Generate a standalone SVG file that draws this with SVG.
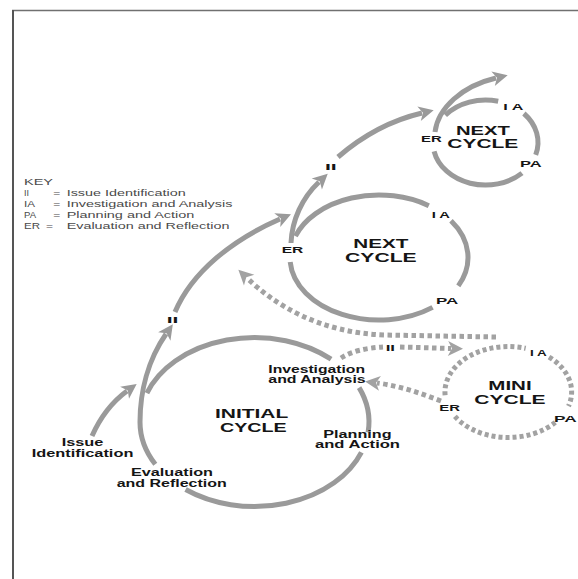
<svg xmlns="http://www.w3.org/2000/svg" width="578" height="579" viewBox="0 0 578 579">
  <style>
    .ring { fill: none; stroke: #9a9a9a; stroke-width: 5; }
    .dots { fill: none; stroke: #a2a2a2; stroke-width: 5; stroke-dasharray: 4.5 3.5; }
    .ring-dots { fill: none; stroke: #a2a2a2; stroke-width: 5; stroke-dasharray: 4 3; }
    .arrow { fill: none; stroke: #9a9a9a; stroke-width: 5; marker-end: url(#head); }
    .arrow-dots { fill: none; stroke: #a2a2a2; stroke-width: 5; stroke-dasharray: 4.5 3.5; marker-end: url(#head-light); }
    .lbl { font-family: "Liberation Sans", Arial, sans-serif; font-weight: bold; fill: #151515; }
    .big { font-size: 13px; }
    .mid { font-size: 12.6px; }
    .txt { font-size: 11.5px; }
    .tag { font-size: 9.3px; }
    .key { font-family: "Liberation Sans", Arial, sans-serif; font-size: 9.5px; fill: #4a4a4a; }
  </style>
  <defs>
    <marker id="head" viewBox="-2 -9 20 18" markerWidth="20" markerHeight="18" refX="3" refY="0" orient="auto" markerUnits="userSpaceOnUse">
      <path d="M15 0 L0 -7.5 L4 0 L0 7.5 Z" fill="#9a9a9a"/>
    </marker>
    <marker id="head-light" viewBox="-2 -9 20 18" markerWidth="20" markerHeight="18" refX="3" refY="0" orient="auto" markerUnits="userSpaceOnUse">
      <path d="M15 0 L0 -7.5 L4 0 L0 7.5 Z" fill="#a2a2a2"/>
    </marker>
  </defs>

  <rect width="578" height="579" fill="#fff"/>

  <!-- frame: only the top and left edges fall inside the page -->
  <g id="frame">
    <line x1="12" y1="10.5" x2="578" y2="10.5" stroke="#707070" stroke-width="1.6"/>
    <line x1="13" y1="10" x2="13" y2="579" stroke="#555" stroke-width="2"/>
  </g>

  <!-- key -->
  <g id="key">
    <text class="key" x="24" y="185" textLength="29" lengthAdjust="spacingAndGlyphs">KEY</text>
    <text class="key" x="24" y="196" textLength="5" lengthAdjust="spacingAndGlyphs">II</text>
    <text class="key" x="53.3" y="196" textLength="7" lengthAdjust="spacingAndGlyphs">=</text>
    <text class="key" x="66.7" y="196" textLength="119" lengthAdjust="spacingAndGlyphs">Issue Identification</text>
    <text class="key" x="24" y="207" textLength="11" lengthAdjust="spacingAndGlyphs">IA</text>
    <text class="key" x="53.3" y="207" textLength="7" lengthAdjust="spacingAndGlyphs">=</text>
    <text class="key" x="66.7" y="207" textLength="165.7" lengthAdjust="spacingAndGlyphs">Investigation and Analysis</text>
    <text class="key" x="24" y="218" textLength="12" lengthAdjust="spacingAndGlyphs">PA</text>
    <text class="key" x="53.3" y="218" textLength="7" lengthAdjust="spacingAndGlyphs">=</text>
    <text class="key" x="66.7" y="218" textLength="127.7" lengthAdjust="spacingAndGlyphs">Planning and Action</text>
    <text class="key" x="24" y="229" textLength="16" lengthAdjust="spacingAndGlyphs">ER</text>
    <text class="key" x="46" y="229" textLength="7" lengthAdjust="spacingAndGlyphs">=</text>
    <text class="key" x="66.7" y="229" textLength="162.7" lengthAdjust="spacingAndGlyphs">Evaluation and Reflection</text>
  </g>

  <!-- connectors: rising arrows and dotted side paths -->
  <g id="connectors">
    <path class="arrow" d="M92 436 C100 418 112 402 127 391"/>
    <path class="arrow" d="M140 422 C140 392 148 360 166 334"/>
    <path class="arrow" d="M175 312 C192 272 232 240 280 219"/>
    <path class="arrow" d="M291 243 C292 220 302 198 319 182"/>
    <path class="arrow" d="M338 157 C360 138 388 121 422 113"/>
    <path class="arrow" d="M435 132 C438 108 462 86 496 78"/>
    <path class="arrow-dots" d="M496 337 L385 335 C320 333 275 305 247 278"/>
    <path class="dots" d="M341 358 C352 351 366 348 383 347"/>
    <path class="arrow-dots" d="M400 347 L451 348.5"/>
    <path class="arrow-dots" d="M441 401 C420 393 400 386 377 383"/>
    <text class="lbl tag" x="166.7" y="322.7" textLength="11.6" lengthAdjust="spacingAndGlyphs">II</text>
    <text class="lbl tag" x="325" y="170" textLength="11.7" lengthAdjust="spacingAndGlyphs">II</text>
    <text class="lbl tag" x="385.7" y="350.7" textLength="9.3" lengthAdjust="spacingAndGlyphs">II</text>
  </g>

  <!-- start label -->
  <g id="issue-identification">
    <text class="lbl txt" x="61.7" y="446" textLength="41.7" lengthAdjust="spacingAndGlyphs">Issue</text>
    <text class="lbl txt" x="31.7" y="456.7" textLength="101.7" lengthAdjust="spacingAndGlyphs">Identification</text>
  </g>

  <!-- initial cycle: ellipse centre (254.5,422), radii 114.5 x 84.5 -->
  <g id="initial-cycle">
    <path class="ring" d="M146.9 393.1 A114.5 84.5 0 0 1 331.1 359.2"/>
    <path class="ring" d="M359.1 387.6 A114.5 84.5 0 0 1 368.1 432.3"/>
    <path class="ring" d="M361.4 452.3 A114.5 84.5 0 0 1 185.6 489.5"/>
    <path class="ring" d="M155.3 464.3 A114.5 84.5 0 0 1 140 422"/>
    <text class="lbl big" x="215" y="418.3" textLength="73.3" lengthAdjust="spacingAndGlyphs">INITIAL</text>
    <text class="lbl big" x="220" y="432.3" textLength="66.7" lengthAdjust="spacingAndGlyphs">CYCLE</text>
    <text class="lbl txt" x="268.3" y="372.7" textLength="96.7" lengthAdjust="spacingAndGlyphs">Investigation</text>
    <text class="lbl txt" x="268.3" y="383.3" textLength="97.4" lengthAdjust="spacingAndGlyphs">and Analysis</text>
    <text class="lbl txt" x="323.3" y="437.5" textLength="68.3" lengthAdjust="spacingAndGlyphs">Planning</text>
    <text class="lbl txt" x="315" y="448.3" textLength="85" lengthAdjust="spacingAndGlyphs">and Action</text>
    <text class="lbl txt" x="131" y="476.2" textLength="82" lengthAdjust="spacingAndGlyphs" style="font-size:10.5px">Evaluation</text>
    <text class="lbl txt" x="116.7" y="486.8" textLength="110" lengthAdjust="spacingAndGlyphs" style="font-size:10.5px">and Reflection</text>
  </g>

  <!-- second cycle: centre (379,257.5), radii 89 x 62.5 -->
  <g id="next-cycle-1">
    <path class="ring" d="M295.4 236.1 A89 62.5 0 0 1 428.8 205.7"/>
    <path class="ring" d="M451 220.8 A89 62.5 0 0 1 458.3 285.9"/>
    <path class="ring" d="M432.6 307.4 A89 62.5 0 0 1 290.2 261.9"/>
    <text class="lbl mid" x="353.3" y="248.3" textLength="55" lengthAdjust="spacingAndGlyphs">NEXT</text>
    <text class="lbl mid" x="345" y="261.7" textLength="71.7" lengthAdjust="spacingAndGlyphs">CYCLE</text>
    <text class="lbl tag" x="431.7" y="218.3" textLength="18.3" lengthAdjust="spacingAndGlyphs">I A</text>
    <text class="lbl tag" x="281.7" y="253.3" textLength="21.6" lengthAdjust="spacingAndGlyphs">ER</text>
    <text class="lbl tag" x="436" y="304" textLength="22.3" lengthAdjust="spacingAndGlyphs">PA</text>
  </g>

  <!-- third cycle: centre (485.5,142.5), radii 52.5 x 42.5 -->
  <g id="next-cycle-2">
    <path class="ring" d="M445.3 115.2 A52.5 42.5 0 0 1 498.2 101.3"/>
    <path class="ring" d="M523.9 113.5 A52.5 42.5 0 0 1 535.7 154.9"/>
    <path class="ring" d="M522 173.1 A52.5 42.5 0 0 1 434.1 151.3"/>
    <text class="lbl mid" x="456" y="135" textLength="54" lengthAdjust="spacingAndGlyphs">NEXT</text>
    <text class="lbl mid" x="447.3" y="148.3" textLength="71" lengthAdjust="spacingAndGlyphs">CYCLE</text>
    <text class="lbl tag" x="503.3" y="110" textLength="20" lengthAdjust="spacingAndGlyphs">I A</text>
    <text class="lbl tag" x="421" y="141.7" textLength="20.7" lengthAdjust="spacingAndGlyphs">ER</text>
    <text class="lbl tag" x="520" y="167.3" textLength="21.7" lengthAdjust="spacingAndGlyphs">PA</text>
  </g>

  <!-- mini cycle: dotted ring, centre (508.3,392), radii 63.3 x 45.5 -->
  <g id="mini-cycle">
    <path class="ring-dots" d="M549 357.1 A63.3 45.5 0 0 1 568.5 406.1"/>
    <path class="ring-dots" d="M555.3 422.4 A63.3 45.5 0 0 1 453.5 414.8"/>
    <path class="ring-dots" d="M445.1 395.2 A63.3 45.5 0 0 1 525.7 348.3"/>
    <text class="lbl big" x="488.3" y="390" textLength="43.3" lengthAdjust="spacingAndGlyphs" style="font-size:12.5px">MINI</text>
    <text class="lbl big" x="474.3" y="403.5" textLength="71.3" lengthAdjust="spacingAndGlyphs" style="font-size:12.5px">CYCLE</text>
    <text class="lbl tag" x="530" y="356" textLength="16.7" lengthAdjust="spacingAndGlyphs">I A</text>
    <text class="lbl tag" x="439.3" y="410.7" textLength="20.7" lengthAdjust="spacingAndGlyphs">ER</text>
    <text class="lbl tag" x="554" y="421.7" textLength="22.7" lengthAdjust="spacingAndGlyphs">PA</text>
  </g>
</svg>
